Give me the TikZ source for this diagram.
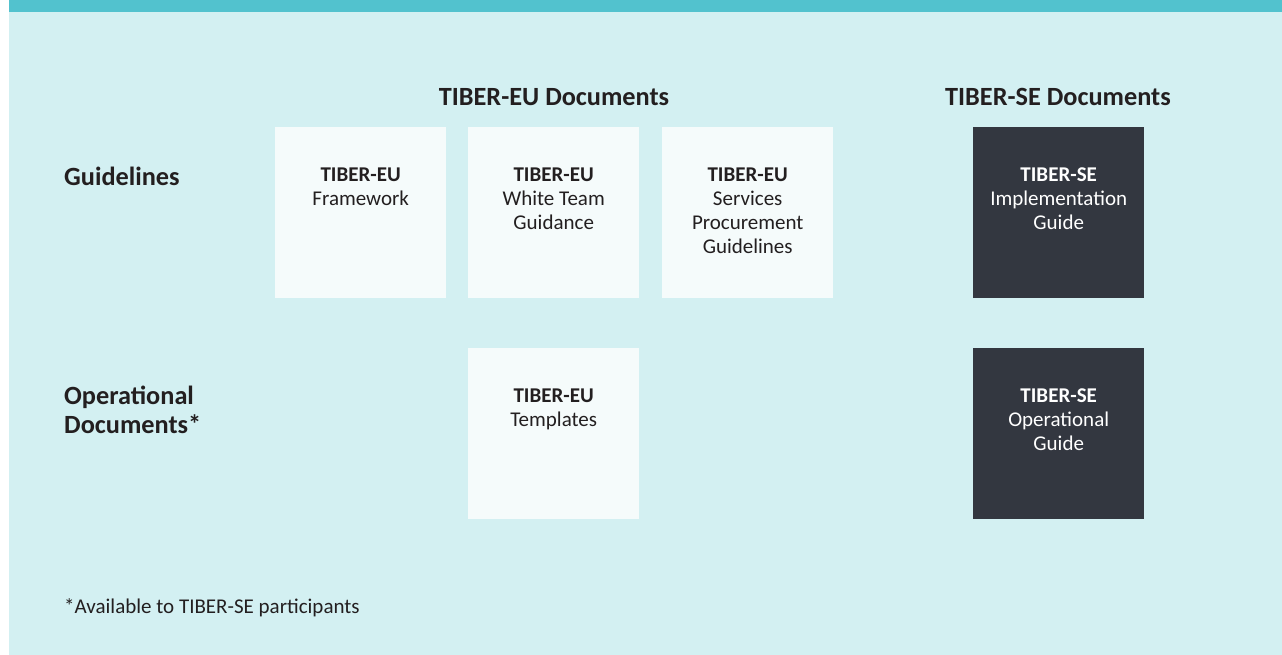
\documentclass[tikz,border=0pt]{standalone}
\usepackage{fontspec}
\setmainfont{Carlito}
\usetikzlibrary{positioning}
\definecolor{barteal}{HTML}{52C2CE}
\definecolor{paleteal}{HTML}{D3F0F2}
\definecolor{paperbox}{HTML}{F5FBFB}
\definecolor{slatebox}{HTML}{333740}
\definecolor{inkdark}{HTML}{231F20}
\tikzset{
	doc/.style={minimum width=171pt, minimum height=171pt, inner sep=0pt, anchor=north west},
	eudoc/.style={doc, fill=paperbox},
	sedoc/.style={doc, fill=slatebox},
	doctext/.style={anchor=north, inner sep=0pt, align=center, font=\fontsize{21}{24}\selectfont},
	heading/.style={inner sep=0pt, font=\fontsize{26.3}{29}\selectfont\bfseries, text=inkdark},
}
\begin{document}
\begin{tikzpicture}[x=1pt, y=-1pt]
			%%%%% START %%%%%
			
			\useasboundingbox (0, 0) rectangle (1282, 655);
			\fill[paleteal] (9, 0) rectangle (1282, 655);
			\fill[barteal] (9, 0) rectangle (1282, 12);
			
			\node[heading] (euhead) at (554, 97) {TIBER-EU Documents};
			\node[heading] (sehead) at (1058, 97) {TIBER-SE Documents};
			\node[heading, anchor=west] (rowguide) at (64, 176) {Guidelines};
			\node[heading, anchor=west, align=left] (rowoper) at (64, 409.5) {Operational\\Documents*};
			
			\node[eudoc] (framework) at (275, 127) {};
			\node[eudoc] (whiteteam) at (468, 127) {};
			\node[eudoc] (procure) at (662, 127) {};
			\node[sedoc] (implement) at (973, 127) {};
			\node[eudoc] (templates) at (468, 348) {};
			\node[sedoc] (operguide) at (973, 348) {};
			
			\node[doctext, text=inkdark] (frameworktxt) at ([yshift=-41]framework.north) {\textbf{TIBER-EU}\\Framework};
			\node[doctext, text=inkdark] (whiteteamtxt) at ([yshift=-41]whiteteam.north) {\textbf{TIBER-EU}\\White Team\\Guidance};
			\node[doctext, text=inkdark] (procuretxt) at ([yshift=-41]procure.north) {\textbf{TIBER-EU}\\Services\\Procurement\\Guidelines};
			\node[doctext, text=white] (implementtxt) at ([yshift=-41]implement.north) {\textbf{TIBER-SE}\\Implementation\\Guide};
			\node[doctext, text=inkdark] (templatestxt) at ([yshift=-41]templates.north) {\textbf{TIBER-EU}\\Templates};
			\node[doctext, text=white] (operguidetxt) at ([yshift=-41]operguide.north) {\textbf{TIBER-SE}\\Operational\\Guide};
			
			\node[inner sep=0pt, anchor=west, text=inkdark, font=\fontsize{21}{24}\selectfont] (footnote) at (64, 608) {*Available to TIBER-SE participants};
			
			%%%%% END %%%%%
\end{tikzpicture}
\end{document}
